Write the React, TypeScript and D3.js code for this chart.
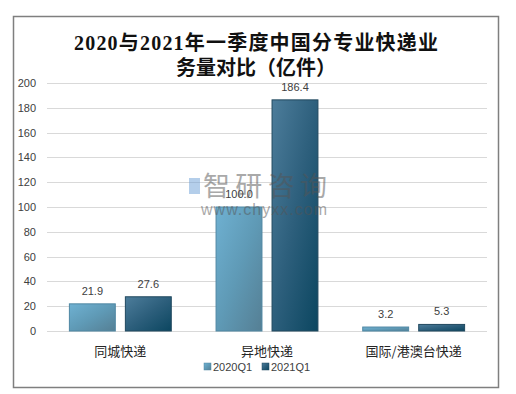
import React from "react";
import * as d3 from "d3";

const categories = ["同城快递", "异地快递", "国际/港澳台快递"];
const series = ["2020Q1", "2021Q1"];
const values2020 = [21.9, 100.0, 3.2];
const values2021 = [27.6, 186.4, 5.3];
const yTicks = [0, 20, 40, 60, 80, 100, 120, 140, 160, 180, 200];

const W = 516;
const H = 394;
const PLOT = { left: 47, right: 487, top: 83, bottom: 331 };

const App = () => {
  const ref = React.useRef<SVGSVGElement>(null);

  React.useEffect(() => {
    const svg = d3.select(ref.current!);
    svg.selectAll("*").remove();

    const defs = svg.append("defs");
    const grads = [
      { id: "g2020", stops: ["#6fb1d2", "#5f9ab6", "#557f94"] },
      { id: "g2021", stops: ["#4d7d9b", "#2d5f7c", "#0b4660"] },
    ];
    grads.forEach((g) => {
      const lg = defs
        .append("linearGradient")
        .attr("id", g.id)
        .attr("x1", "0")
        .attr("y1", "0")
        .attr("x2", "1")
        .attr("y2", "1");
      g.stops.forEach((c, i) =>
        lg.append("stop").attr("offset", `${i * 50}%`).attr("stop-color", c)
      );
    });

    svg
      .append("rect")
      .attr("x", 13.5)
      .attr("y", 16.5)
      .attr("width", 485)
      .attr("height", 371)
      .attr("fill", "#fff")
      .attr("stroke", "#7f7f7f")
      .attr("stroke-width", 1.5);

    // title
    const title = svg
      .append("text")
      .attr("text-anchor", "middle")
      .attr("font-family", "'Liberation Serif', 'Noto Sans CJK SC', serif")
      .attr("font-weight", "bold")
      .attr("font-size", 20)
      .attr("fill", "#111");
    title
      .append("tspan")
      .attr("x", 256)
      .attr("y", 50)
      .attr("textLength", 364)
      .text("2020与2021年一季度中国分专业快递业");
    title
      .append("tspan")
      .attr("x", 256)
      .attr("y", 75)
      .text("务量对比（亿件）");

    const x0 = d3
      .scaleBand<string>()
      .domain(categories)
      .range([PLOT.left, PLOT.right])
      .paddingInner(0)
      .paddingOuter(0);
    const x1 = d3
      .scaleBand<string>()
      .domain(series)
      .range([0, x0.bandwidth()])
      .paddingInner(0.18)
      .paddingOuter(0.4);
    const y = d3.scaleLinear().domain([0, 200]).range([PLOT.bottom, PLOT.top]);

    const grid = svg.append("g");
    grid
      .selectAll("line")
      .data(yTicks)
      .enter()
      .append("line")
      .attr("x1", PLOT.left)
      .attr("x2", PLOT.right)
      .attr("y1", (d) => Math.round(y(d)) + 0.5)
      .attr("y2", (d) => Math.round(y(d)) + 0.5)
      .attr("stroke", "#d9d9d9")
      .attr("stroke-width", 1);
    grid
      .selectAll("text")
      .data(yTicks)
      .enter()
      .append("text")
      .attr("x", 36)
      .attr("y", (d) => y(d) + 4)
      .attr("text-anchor", "end")
      .attr("font-family", "'Liberation Sans', Arial, sans-serif")
      .attr("font-size", 11)
      .attr("fill", "#404040")
      .text((d) => d);

    const allSeries = [values2020, values2021];
    allSeries.forEach((vals, si) => {
      const g = svg.append("g");
      g.selectAll("rect")
        .data(vals)
        .enter()
        .append("rect")
        .attr("x", (_, i) => x0(categories[i])! + x1(series[si])!)
        .attr("y", (d) => y(d))
        .attr("width", x1.bandwidth())
        .attr("height", (d) => y(0) - y(d))
        .attr("fill", `url(#g${series[si].slice(0, 4)})`)
        .attr("stroke", si === 0 ? "#4f87a3" : "#21495f")
        .attr("stroke-width", 1);
      g.selectAll("text")
        .data(vals)
        .enter()
        .append("text")
        .attr("x", (_, i) => x0(categories[i])! + x1(series[si])! + x1.bandwidth() / 2)
        .attr("y", (d) => y(d) - 9)
        .attr("text-anchor", "middle")
        .attr("font-family", "'Liberation Sans', Arial, sans-serif")
        .attr("font-size", 11)
        .attr("fill", "#404040")
        .text((d) => d.toFixed(1));
    });

    svg
      .append("g")
      .selectAll("text")
      .data(categories)
      .enter()
      .append("text")
      .attr("x", (d) => x0(d)! + x0.bandwidth() / 2)
      .attr("y", 356)
      .attr("text-anchor", "middle")
      .attr("font-family", "'Noto Sans CJK SC', sans-serif")
      .attr("font-size", 13)
      .attr("fill", "#262626")
      .text((d) => d);

    // legend
    const legendX = [204, 262];
    series.forEach((s, i) => {
      svg
        .append("rect")
        .attr("x", legendX[i])
        .attr("y", 363)
        .attr("width", 7)
        .attr("height", 7)
        .attr("fill", `url(#g${s.slice(0, 4)})`)
        .attr("stroke", i === 0 ? "#4f87a3" : "#21495f")
        .attr("stroke-width", 0.5);
      svg
        .append("text")
        .attr("x", legendX[i] + 9)
        .attr("y", 371)
        .attr("font-family", "'Liberation Sans', Arial, sans-serif")
        .attr("font-size", 11)
        .attr("fill", "#404040")
        .text(s);
    });

    // watermark
    const wm = svg.append("g").attr("opacity", 0.5);
    wm.append("rect")
      .attr("x", 189)
      .attr("y", 178)
      .attr("width", 11)
      .attr("height", 16)
      .attr("fill", "#6c9fd6");
    wm.append("text")
      .attr("x", 203)
      .attr("y", 196)
      .attr("textLength", 124)
      .attr("font-family", "'Noto Sans CJK SC', sans-serif")
      .attr("font-size", 27)
      .attr("fill", "#555")
      .text("智研咨询");
    wm.append("text")
      .attr("x", 201)
      .attr("y", 215)
      .attr("textLength", 126)
      .attr("font-family", "'Liberation Sans', Arial, sans-serif")
      .attr("font-size", 16)
      .attr("fill", "#555")
      .text("www.chyxx.com");
  }, []);

  return (
    <svg
      ref={ref}
      width={W}
      height={H}
      style={{ display: "block", position: "absolute", left: 0, top: 0 }}
    />
  );
};

export default App;
